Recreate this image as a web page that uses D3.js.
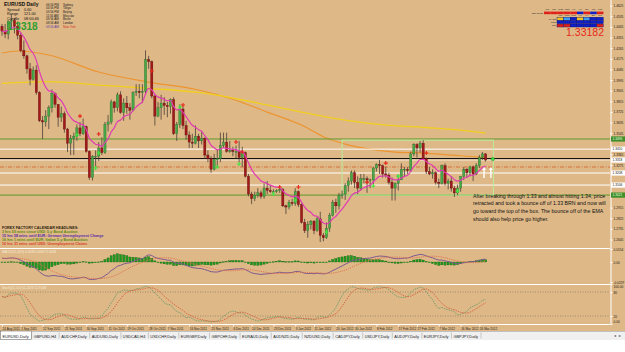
<!DOCTYPE html>
<html>
<head>
<meta charset="utf-8">
<script src="https://cdn.jsdelivr.net/npm/d3@7"></script>
<style>
html, body { margin: 0; padding: 0; background: #fff; }
svg { display: block; font-family: "Liberation Sans", Arial, sans-serif; }
</style>
</head>
<body>
<svg id="chart" width="625" height="352"></svg>
<script>
// EURUSD daily, 24 Aug 2011 .. 28 Mar 2012 (one entry per bar)
const firstOpen = 1.4450;
const closes = [
  1.4410,1.4385,1.4495,1.4500,1.4450,1.4375,1.4245,1.4200,1.4090,1.4000,
  1.4080,1.3890,1.3650,1.3640,1.3690,1.3760,1.3880,1.3790,1.3680,1.3710,
  1.3580,1.3460,1.3500,1.3520,1.3590,1.3540,1.3600,1.3390,1.3170,1.3350,
  1.3350,1.3420,1.3380,1.3620,1.3640,1.3810,1.3760,1.3870,1.3720,1.3800,
  1.3760,1.3740,1.3890,1.3900,1.3890,1.3900,1.4170,1.4150,1.3860,1.3690,
  1.3760,1.3800,1.3780,1.3770,1.3830,1.3540,1.3620,1.3750,1.3610,1.3530,
  1.3470,1.3460,1.3520,1.3480,1.3500,1.3360,1.3330,1.3240,1.3320,1.3330,
  1.3440,1.3470,1.3390,1.3400,1.3390,1.3390,1.3340,1.3380,1.3180,1.3030,
  1.2990,1.3020,1.3040,1.3010,1.3080,1.3060,1.3050,1.3050,1.3060,1.3070,
  1.2930,1.2920,1.2960,1.2950,1.3050,1.2940,1.2790,1.2720,1.2770,1.2800,
  1.2720,1.2820,1.2680,1.2660,1.2740,1.2850,1.2960,1.2930,1.3020,1.3030,
  1.3100,1.3140,1.3210,1.3130,1.3080,1.3160,1.3160,1.3150,1.3150,1.3250,
  1.3280,1.3270,1.3200,1.3190,1.3130,1.3080,1.3120,1.3150,1.3240,1.3240,
  1.3230,1.3370,1.3450,1.3420,1.3460,1.3330,1.3220,1.3200,1.3210,1.3130,
  1.3120,1.3270,1.3120,1.3140,1.3080,1.3040,1.3080,1.3180,1.3240,1.3210,
  1.3260,1.3200,1.3270,1.3340,1.3370,1.3318
];
const highs = [
  1.4470,1.4470,1.4500,1.4550,1.4520,1.4490,1.4400,1.4330,1.4210,1.4140,
  1.4110,1.4120,1.3900,1.3690,1.3740,1.3780,1.3915,1.3890,1.3790,1.3770,
  1.3730,1.3590,1.3530,1.3550,1.3620,1.3640,1.3670,1.3610,1.3400,1.3360,
  1.3400,1.3470,1.3510,1.3640,1.3700,1.3830,1.3820,1.3890,1.3900,1.3840,
  1.3860,1.3800,1.3900,1.3960,1.3960,1.3960,1.4247,1.4200,1.4160,1.3870,
  1.3810,1.3870,1.3850,1.3810,1.3840,1.3850,1.3640,1.3790,1.3770,1.3650,
  1.3560,1.3540,1.3610,1.3540,1.3560,1.3510,1.3400,1.3350,1.3370,1.3410,
  1.3550,1.3550,1.3550,1.3480,1.3430,1.3440,1.3480,1.3430,1.3390,1.3200,
  1.3050,1.3050,1.3080,1.3060,1.3120,1.3140,1.3100,1.3070,1.3070,1.3080,
  1.3080,1.2940,1.2980,1.2990,1.3080,1.3060,1.2950,1.2820,1.2800,1.2810,
  1.2810,1.2840,1.2880,1.2700,1.2790,1.2870,1.2980,1.2990,1.3040,1.3060,
  1.3120,1.3170,1.3230,1.3230,1.3180,1.3200,1.3200,1.3180,1.3160,1.3260,
  1.3290,1.3320,1.3280,1.3260,1.3210,1.3170,1.3130,1.3190,1.3290,1.3260,
  1.3260,1.3390,1.3460,1.3460,1.3480,1.3486,1.3340,1.3260,1.3240,1.3220,
  1.3160,1.3280,1.3290,1.3160,1.3180,1.3100,1.3110,1.3180,1.3260,1.3250,
  1.3270,1.3270,1.3290,1.3360,1.3385,1.3375
];
const lows = [
  1.4370,1.4350,1.4340,1.4420,1.4390,1.4340,1.4230,1.4175,1.4050,1.3950,
  1.3990,1.3870,1.3640,1.3495,1.3600,1.3580,1.3720,1.3760,1.3600,1.3640,
  1.3550,1.3385,1.3360,1.3360,1.3480,1.3520,1.3530,1.3380,1.3150,1.3145,
  1.3260,1.3310,1.3360,1.3370,1.3560,1.3620,1.3720,1.3730,1.3710,1.3650,
  1.3710,1.3660,1.3730,1.3860,1.3840,1.3800,1.3880,1.4090,1.3840,1.3610,
  1.3680,1.3660,1.3700,1.3680,1.3710,1.3530,1.3480,1.3590,1.3580,1.3490,
  1.3420,1.3420,1.3450,1.3420,1.3450,1.3330,1.3300,1.3210,1.3230,1.3260,
  1.3300,1.3420,1.3380,1.3380,1.3350,1.3330,1.3300,1.3260,1.3170,1.3010,
  1.2945,1.2970,1.3000,1.2990,1.2990,1.3030,1.3040,1.3030,1.3040,1.3040,
  1.2920,1.2860,1.2900,1.2930,1.2930,1.2920,1.2780,1.2700,1.2660,1.2730,
  1.2690,1.2710,1.2624,1.2630,1.2650,1.2710,1.2840,1.2870,1.2900,1.2990,
  1.2980,1.3050,1.3110,1.3080,1.3030,1.3060,1.3120,1.3040,1.3080,1.3110,
  1.3220,1.3200,1.3170,1.3170,1.3110,1.2975,1.2975,1.3060,1.3150,1.3180,
  1.3200,1.3220,1.3350,1.3340,1.3380,1.3320,1.3200,1.3190,1.3160,1.3110,
  1.3080,1.3110,1.3100,1.3070,1.3050,1.3005,1.3020,1.3050,1.3150,1.3170,
  1.3180,1.3140,1.3190,1.3250,1.3320,1.3305
];

// slow moving averages (bar index -> price)
const orangeBars = [0, 5, 15, 31, 47, 63, 74, 85, 96, 104, 110, 116, 126, 135, 144, 153, 155];
const orangeVals = [1.4224, 1.4241, 1.4207, 1.4063, 1.3978, 1.3911, 1.3833, 1.3724, 1.3614, 1.3504, 1.3453, 1.3419, 1.3385, 1.3377, 1.3360, 1.3343, 1.3340];
const yellowBars = [0, 15, 31, 47, 63, 74, 85, 96, 106, 117, 128, 134, 145, 155];
const yellowVals = [1.3967, 1.3981, 1.3953, 1.3925, 1.3890, 1.3843, 1.3784, 1.3724, 1.3673, 1.3631, 1.3605, 1.3597, 1.3575, 1.3546];

// signal crosses
const sellBars = [25, 31, 48, 58, 75, 77, 89, 95, 117, 123, 136];
const sellPrices = [1.3690, 1.3538, 1.4072, 1.3784, 1.3470, 1.3386, 1.3089, 1.3089, 1.3131, 1.3292, 1.3377];
const buyBars = [24, 30, 31, 57, 69, 76, 87, 94, 104, 119, 127, 146];
const buyPrices = [1.3530, 1.3250, 1.3377, 1.3767, 1.3259, 1.3284, 1.3030, 1.2979, 1.2708, 1.3098, 1.3182, 1.3055];

// horizontal lines and drawn objects
const levelPrices = [1.3496, 1.3410, 1.3330, 1.3318, 1.3259, 1.3208, 1.3106, 1.3021];
const levelKinds = ['green', 'white', 'black', 'bid', 'pivot', 'white', 'white', 'green'];
const boxBars = [109, 157.5];
const boxPrices = [1.3486, 1.3021];
const arrowBars = [154.5, 156.7];
const arrowPrices = [1.3259, 1.3165];
const dotBar = 157.3, dotPrice = 1.3326;

// indicator seeds (values before the first visible bar)
const macdSeed = [1.4410, 1.4360];
const stochSeed = [1.4550, 1.4100];

const priceTicks = [1.4625, 1.4535, 1.4445, 1.4355, 1.4265, 1.4175, 1.4085, 1.3995, 1.3905, 1.3815,
  1.3725, 1.3635, 1.3545, 1.3365, 1.3275, 1.2915, 1.2825, 1.2735, 1.2645];
const macdTicks = [0.0154, 0, -0.0237];
const stochTicks = [100, 80, 20, 0];
const dateLabels = ['24 Aug 2011', '1 Sep 2011', '12 Sep 2011', '21 Sep 2011', '30 Sep 2011', '11 Oct 2011',
  '19 Oct 2011', '28 Oct 2011', '7 Nov 2011', '16 Nov 2011', '25 Nov 2011', '6 Dec 2011', '14 Dec 2011',
  '23 Dec 2011', '3 Jan 2012', '11 Jan 2012', '20 Jan 2012', '30 Jan 2012', '8 Feb 2012', '17 Feb 2012',
  '27 Feb 2012', '7 Mar 2012', '16 Mar 2012', '26 Mar 2012'];

const noteLines = [
  'After breaking through 1.33 and almost hitting 1.34, price',
  'retracted and took a bounce off of 1.33 BRN and now will',
  'go toward the top of the box. The bounce off of the EMA',
  'should also help price go higher.'
];
const headlines = [
  'FOREX FACTORY CALENDAR HEADLINES:',
  '3 hrs 59 mins since USD: 5-y Bond Auction',
  '15 hrs 58 mins until EUR: German Unemployment Change',
  '16 hrs 1 mins until EUR: Italian 5-y Bond Auction',
  '16 hrs 31 mins until USD: Unemployment Claims'
];
const infoNames = ['Spread', 'Range', 'Candle'];
const infoValues = ['0.60', '121.00', '08:00:46'];
const sessionTimes = ['06:56 PM', '04:56 PM', '03:56 PM', '11:56 AM', '09:56 AM', '08:56 AM', '03:56 AM'];
const sessionCities = ['Sydney', 'Tokyo', 'Beijing', 'Moscow', 'Berlin', 'London', 'New York'];
const tfNames = ['M1', 'M5', 'M15', 'M30', 'H1', 'H4', 'D1', 'W1', 'MN'];
const trendCells = ['r', 'r', 'r', 'r', 'r', 'b', 'r', 'b', 'r'];
const matrixNames = ['MACD', 'STR', 'CCI'];
const matrixCells = [
  ['y', 'l', 'b', 'y', 'l', 'b', 'b'],
  ['b', 'b', 'b', 'b', 'b', 'b', 'b'],
  ['r', 'r', 'b', 'b', 'b', 'b', 'r']
];
const tabNames = ['EURUSD,Daily', 'GBPUSD,H4', 'AUDCHF,Daily', 'AUDUSD,Daily', 'USDCAD,H4', 'USDCHF,Daily',
  'EURGBP,Daily', 'GBPCHF,Daily', 'EURAUD,Daily', 'AUDNZD,Daily', 'NZDUSD,Daily', 'CADJPY,Daily',
  'USDJPY,Daily', 'AUDJPY,Daily', 'EURJPY,Daily', 'GBPJPY,Daily'];

// ---------- derived series ----------
const n = closes.length;
const opens = [firstOpen].concat(closes.slice(0, n - 1));
const idx = d3.range(n);

function ema(src, period, seed) {
  const k = 2 / (period + 1);
  let prev = seed;
  return src.map(v => (prev = prev + k * (v - prev)));
}
const emaFast = ema(closes, 10, closes[0]);
const ema12 = ema(closes, 12, macdSeed[0]);
const ema26 = ema(closes, 26, macdSeed[1]);
const macdMain = ema12.map((v, i) => v - ema26[i]);
const macdSignal = macdMain.map((v, i) => d3.mean(macdMain.slice(Math.max(0, i - 8), i + 1)));
const macdHist = macdMain.map((v, i) => v - macdSignal[i]);

// stochastic %K 21, slowing 5, %D 5
const kLen = 21, slow = 5, dLen = 5;
const rawK = closes.map((c, i) => {
  const lo = i - (kLen - 1);
  let hh = d3.max(highs.slice(Math.max(0, lo), i + 1));
  let ll = d3.min(lows.slice(Math.max(0, lo), i + 1));
  if (lo < 0) { hh = Math.max(hh, stochSeed[0]); ll = Math.min(ll, stochSeed[1]); }
  return { num: c - ll, den: hh - ll };
});
const stochK = rawK.map((r, i) => {
  const w = rawK.slice(Math.max(0, i - slow + 1), i + 1);
  return 100 * d3.sum(w, d => d.num) / d3.sum(w, d => d.den);
});
const stochD = stochK.map((v, i) => d3.mean(stochK.slice(Math.max(0, i - dLen + 1), i + 1)));

const dates = [];
for (let t = Date.UTC(2011, 7, 24); dates.length < n; t += 864e5) {
  const d = new Date(t), wd = d.getUTCDay();
  if (wd !== 0 && wd !== 6) dates.push(d);
}
const fmtDate = d3.utcFormat('%-d %b %Y');
const labelIdx = dateLabels.map(s => dates.findIndex(d => fmtDate(d) === s));

// ---------- scales ----------
const axisX = 610;
const x = d3.scaleLinear().domain([0, 155]).range([2, 485.6]);
const yMain = d3.scaleLinear().domain([1.2573, 1.4673]).range([248, 0]);
const yMacd = d3.scaleLinear().domain([-0.0237, 0.0154]).range([282, 249]);
const yStoch = d3.scaleLinear().domain([0, 100]).range([324, 284]);

const svg = d3.select('#chart');
const bg = '#DEB887';
svg.append('rect').attr('width', 625).attr('height', 331).attr('fill', bg);
svg.append('rect').attr('y', 331).attr('width', 625).attr('height', 21).attr('fill', '#fff');
svg.append('rect').attr('y', 331).attr('width', 625).attr('height', 9).attr('fill', '#F0F0F0');
svg.append('line').attr('x1', 0).attr('x2', 625).attr('y1', 331.5).attr('y2', 331.5).attr('stroke', '#A0A0A0').attr('stroke-width', 0.6);

const defs = svg.append('defs');
[['clipMain', 0, 0, axisX, 248], ['clipMacd', 0, 249, axisX, 35], ['clipStoch', 0, 285, axisX, 39]].forEach(c => {
  defs.append('clipPath').attr('id', c[0]).append('rect')
    .attr('x', c[1]).attr('y', c[2]).attr('width', c[3]).attr('height', c[4]);
});

// ---------- main window ----------
const gMain = svg.append('g').attr('clip-path', 'url(#clipMain)');

const curveLine = (bars, vals) => d3.line().x((d, k) => x(bars[k])).y(d => yMain(d)).curve(d3.curveMonotoneX)(vals);
gMain.append('path').attr('d', curveLine(orangeBars, orangeVals))
  .attr('fill', 'none').attr('stroke', '#EC9530').attr('stroke-width', 1.2);
gMain.append('path').attr('d', curveLine(yellowBars, yellowVals))
  .attr('fill', 'none').attr('stroke', '#F2CF1E').attr('stroke-width', 1.3);

const levelStyle = {
  green: { stroke: '#5C9A2E', width: 1, dash: null },
  white: { stroke: '#FFFFFF', width: 1, dash: null },
  black: { stroke: '#000000', width: 1, dash: null },
  bid:   { stroke: '#FFFFFF', width: 0.7, dash: null },
  pivot: { stroke: '#D2602A', width: 0.8, dash: '4,1.5,1,1.5' }
};
levelPrices.forEach((p, k) => {
  const s = levelStyle[levelKinds[k]];
  gMain.append('line').attr('x1', 0).attr('x2', axisX).attr('y1', yMain(p)).attr('y2', yMain(p))
    .attr('stroke', s.stroke).attr('stroke-width', s.width).attr('stroke-dasharray', s.dash);
});

gMain.append('rect')
  .attr('x', x(boxBars[0])).attr('width', x(boxBars[1]) - x(boxBars[0]))
  .attr('y', yMain(boxPrices[0])).attr('height', yMain(boxPrices[1]) - yMain(boxPrices[0]))
  .attr('fill', 'none').attr('stroke', '#B8EE9C').attr('stroke-width', 1);

const candles = gMain.selectAll('g.candle').data(idx).join('g').attr('class', 'candle');
candles.append('line')
  .attr('x1', i => x(i)).attr('x2', i => x(i))
  .attr('y1', i => yMain(highs[i])).attr('y2', i => yMain(lows[i]))
  .attr('stroke', '#4A4038').attr('stroke-width', 0.8);
candles.append('rect')
  .attr('x', i => x(i) - 1.1).attr('width', 2.2)
  .attr('y', i => yMain(Math.max(opens[i], closes[i])))
  .attr('height', i => Math.max(0.8, Math.abs(yMain(opens[i]) - yMain(closes[i]))))
  .attr('fill', i => closes[i] >= opens[i] ? '#48A848' : '#A2191A')
  .attr('stroke', i => closes[i] >= opens[i] ? '#2A6A2A' : '#5E0C0C')
  .attr('stroke-width', 0.35);

gMain.append('path')
  .attr('d', d3.line().x(i => x(i)).y(i => yMain(emaFast[i])).curve(d3.curveMonotoneX)(idx))
  .attr('fill', 'none').attr('stroke', '#E03CB4').attr('stroke-width', 1.2);

const cross = 'M-2,0H2M0,-2V2';
gMain.selectAll('path.sell').data(sellBars).join('path').attr('class', 'sell')
  .attr('d', cross).attr('transform', (b, k) => `translate(${x(b)},${yMain(sellPrices[k])})`)
  .attr('stroke', '#E82418').attr('stroke-width', 1.1);
gMain.selectAll('path.buy').data(buyBars).join('path').attr('class', 'buy')
  .attr('d', cross).attr('transform', (b, k) => `translate(${x(b)},${yMain(buyPrices[k])})`)
  .attr('stroke', '#3EE83E').attr('stroke-width', 1.1);

arrowBars.forEach(b => {
  const ax = x(b), top = yMain(arrowPrices[0]), bot = yMain(arrowPrices[1]);
  gMain.append('path')
    .attr('d', `M${ax},${top}L${ax + 2},${top + 3}L${ax + 0.7},${top + 3}L${ax + 0.7},${bot}L${ax - 0.7},${bot}L${ax - 0.7},${top + 3}L${ax - 2},${top + 3}Z`)
    .attr('fill', '#FFFFFF');
});
gMain.append('circle').attr('cx', x(dotBar)).attr('cy', yMain(dotPrice)).attr('r', 1.7)
  .attr('fill', '#3EE03E').attr('stroke', '#1E7A1E').attr('stroke-width', 0.4);

// note text: font size fitted so the longest line ends just left of the price axis
const noteX = 473, noteRight = 606;
const notes = svg.selectAll('text.note').data(noteLines).join('text').attr('class', 'note')
  .attr('x', noteX).attr('y', (d, k) => 197.5 + k * 7.8)
  .attr('font-size', 6.4).attr('fill', '#111').text(d => d);
const longest = d3.max(notes.nodes(), nd => nd.getComputedTextLength());
notes.attr('font-size', 6.4 * (noteRight - noteX) / longest);

// headlines
const headColors = ['#2A1C0C', '#5E8A12', '#5A2EA8', '#5E8A12', '#D8401E'];
svg.selectAll('text.head').data(headlines).join('text').attr('class', 'head')
  .attr('x', 2).attr('y', (d, k) => 228.8 + k * 4.1)
  .attr('font-size', 3.7).attr('font-weight', 'bold')
  .attr('fill', (d, k) => headColors[k]).text(d => d);

// info panel top-left
svg.append('text').attr('x', 4).attr('y', 6).attr('font-size', 5).attr('font-weight', 'bold')
  .attr('fill', '#111').text('EURUSD  Daily');
infoNames.forEach((s, k) => {
  svg.append('text').attr('x', 7).attr('y', 11.3 + k * 4.1).attr('font-size', 3.8).attr('fill', '#111').text(s);
  svg.append('text').attr('x', 24).attr('y', 11.3 + k * 4.1).attr('font-size', 3.8).attr('fill', '#111').text(infoValues[k]);
});
svg.append('text').attr('x', 7).attr('y', 29.5).attr('font-size', 10).attr('font-weight', 'bold')
  .attr('fill', '#2E9E2E').text(closes[n - 1].toFixed(4));
sessionTimes.forEach((t, k) => {
  const last = k === sessionTimes.length - 1;
  svg.append('text').attr('x', 46).attr('y', 5.5 + k * 3.73).attr('font-size', 3).attr('fill', last ? '#6040A8' : '#222').text(t);
  svg.append('text').attr('x', 63).attr('y', 5.5 + k * 3.73).attr('font-size', 3).attr('fill', last ? '#D83030' : '#222').text(sessionCities[k]);
});

// trend matrix top-right
const cellColor = { r: '#E0201A', b: '#1020C8', y: '#F2C21E', l: '#3C9CF0' };
const cw = 6.6;
tfNames.forEach((t, k) => {
  svg.append('text').attr('x', 544 + k * cw + cw / 2).attr('y', 10).attr('text-anchor', 'middle')
    .attr('font-size', 2.5).attr('fill', '#222').text(t);
});
svg.append('text').attr('x', 543).attr('y', 13.8).attr('text-anchor', 'end').attr('font-size', 2.5).attr('fill', '#222').text('Bar Trend');
trendCells.forEach((c, k) => {
  svg.append('rect').attr('x', 544 + k * cw).attr('y', 11.6).attr('width', cw).attr('height', 2.6).attr('fill', cellColor[c]);
});
tfNames.slice(1, 8).forEach((t, k) => {
  svg.append('text').attr('x', 557 + k * cw + cw / 2).attr('y', 16.3).attr('text-anchor', 'middle')
    .attr('font-size', 2.5).attr('fill', '#222').text(t);
});
matrixCells.forEach((row, r) => {
  svg.append('text').attr('x', 556).attr('y', 19.6 + r * 3.4).attr('text-anchor', 'end')
    .attr('font-size', 2.5).attr('fill', '#222').text(matrixNames[r]);
  row.forEach((c, k) => {
    svg.append('rect').attr('x', 557 + k * cw).attr('y', 17.2 + r * 3.4).attr('width', cw).attr('height', 3)
      .attr('fill', cellColor[c]).attr('stroke', '#0A1070').attr('stroke-width', 0.4);
  });
});
svg.append('text').attr('x', 604).attr('y', 36).attr('text-anchor', 'end').attr('font-size', 10.5)
  .attr('fill', '#E8281A').text('1.33182');

// ---------- MACD window ----------
const gMacd = svg.append('g').attr('clip-path', 'url(#clipMacd)');
gMacd.selectAll('rect').data(idx).join('rect')
  .attr('x', i => x(i) - 1.1).attr('width', 2.2)
  .attr('y', i => Math.min(yMacd(0), yMacd(macdHist[i])))
  .attr('height', i => Math.max(0.6, Math.abs(yMacd(macdHist[i]) - yMacd(0))))
  .attr('fill', '#1E9A1E').attr('stroke', '#0B5A0B').attr('stroke-width', 0.3);
gMacd.append('path').attr('d', d3.line().x(i => x(i)).y(i => yMacd(macdMain[i]))(idx))
  .attr('fill', 'none').attr('stroke', '#7E5A90').attr('stroke-width', 1);
gMacd.append('path').attr('d', d3.line().x(i => x(i)).y(i => yMacd(macdSignal[i]))(idx))
  .attr('fill', 'none').attr('stroke', '#E0704A').attr('stroke-width', 0.9).attr('stroke-dasharray', '1.2,1');
svg.append('text').attr('x', 2).attr('y', 253).attr('font-size', 3.2).attr('fill', '#F6EEDC')
  .text('MACD(12,26,9) ' + [macdMain[n - 1], macdSignal[n - 1], macdHist[n - 1]].map(v => v.toFixed(4)).join(' '));

// ---------- Stochastic window ----------
const gSto = svg.append('g').attr('clip-path', 'url(#clipStoch)');
[80, 20].forEach(v => {
  gSto.append('line').attr('x1', 0).attr('x2', axisX).attr('y1', yStoch(v)).attr('y2', yStoch(v))
    .attr('stroke', '#8A7456').attr('stroke-width', 0.7).attr('stroke-dasharray', '1,1.5');
});
gSto.append('path').attr('d', d3.line().x(i => x(i)).y(i => yStoch(stochK[i])).curve(d3.curveMonotoneX)(idx))
  .attr('fill', 'none').attr('stroke', '#6E9A6A').attr('stroke-width', 0.9).attr('stroke-dasharray', '1.5,1');
gSto.append('path').attr('d', d3.line().x(i => x(i)).y(i => yStoch(stochD[i])).curve(d3.curveMonotoneX)(idx))
  .attr('fill', 'none').attr('stroke', '#D8603C').attr('stroke-width', 0.9).attr('stroke-dasharray', '1.5,1');
svg.append('text').attr('x', 2).attr('y', 289).attr('font-size', 3.2).attr('fill', '#F6EEDC')
  .text(`Stoch(${kLen},${dLen},${slow}) ` + stochK[n - 1].toFixed(4) + ' ' + stochD[n - 1].toFixed(4));

// ---------- separators ----------
[248.5, 284.5, 324.5].forEach(yy => {
  svg.append('line').attr('x1', 0).attr('x2', axisX).attr('y1', yy).attr('y2', yy).attr('stroke', '#fff').attr('stroke-width', 1);
});

// ---------- axes ----------
function styleAxis(g, size) {
  g.attr('font-size', size).attr('font-family', '"Liberation Sans", Arial, sans-serif');
  g.select('.domain').attr('stroke', '#fff');
  g.selectAll('.tick line').attr('stroke', '#fff');
  g.selectAll('.tick text').attr('fill', '#1E1A14');
}
svg.append('g').attr('transform', `translate(${axisX + 0.5},0)`)
  .call(d3.axisRight(yMain).tickValues(priceTicks).tickFormat(d3.format('.4f')).tickSize(2).tickPadding(1).tickSizeOuter(0))
  .call(g => styleAxis(g, 3.2))
  .call(g => g.select('.domain').attr('d', 'M0.5,0V324.5'));

// level labels on the price axis
levelPrices.forEach((p, k) => {
  const kind = levelKinds[k];
  if (kind === 'black' || kind === 'pivot') return;
  const green = kind === 'green';
  svg.append('rect').attr('x', axisX + 1).attr('y', yMain(p) - 2.6).attr('width', 14).attr('height', 5.2)
    .attr('fill', green ? '#3F8F2A' : '#FFFFFF');
  svg.append('text').attr('x', axisX + 2.5).attr('y', yMain(p) + 1.2).attr('font-size', 3.2)
    .attr('fill', green ? '#E8FFE0' : '#111').text(p.toFixed(4));
});

svg.append('g').attr('transform', `translate(${axisX + 0.5},0)`)
  .call(d3.axisRight(yMacd).tickValues(macdTicks).tickFormat(v => v === 0 ? '0.00' : v.toFixed(4)).tickSize(2).tickPadding(1).tickSizeOuter(0))
  .call(g => styleAxis(g, 3.2))
  .call(g => g.select('.domain').remove());
svg.append('g').attr('transform', `translate(${axisX + 0.5},0)`)
  .call(d3.axisRight(yStoch).tickValues(stochTicks).tickFormat(v => (v === 100 || v === 0) ? v.toFixed(2) : String(v)).tickSize(2).tickPadding(1).tickSizeOuter(0))
  .call(g => styleAxis(g, 3.2))
  .call(g => g.select('.domain').remove())
  .call(g => g.selectAll('.tick text').attr('dy', v => v === 100 ? '1.2em' : (v === 0 ? '-0.4em' : '0.32em')));

svg.append('g').attr('transform', 'translate(0,324.5)')
  .call(d3.axisBottom(x).tickValues(labelIdx.filter(i => i >= 0)).tickFormat(i => fmtDate(dates[i])).tickSize(2).tickPadding(1).tickSizeOuter(0))
  .call(g => styleAxis(g, 3.1))
  .call(g => g.select('.domain').remove())
  .call(g => g.selectAll('.tick text').attr('text-anchor', 'start').attr('dy', '0.9em'));

// ---------- symbol tabs ----------
const tabs = svg.append('g');
const activeTab = tabs.append('rect').attr('y', 331).attr('height', 8.5)
  .attr('fill', '#fff').attr('stroke', '#555').attr('stroke-width', 0.5);
let tx = 0;
tabNames.forEach((name, k) => {
  const t = tabs.append('text').attr('x', tx + 2.5).attr('y', 337.6).attr('font-size', 3.9).attr('fill', '#222').text(name);
  const w = t.node().getComputedTextLength() + 5;
  if (k === 0) activeTab.attr('x', tx + 0.5).attr('width', w);
  tx += w;
  tabs.append('line').attr('x1', tx + 0.5).attr('x2', tx + 0.5).attr('y1', 332.5).attr('y2', 338.5)
    .attr('stroke', '#9A9A9A').attr('stroke-width', 0.5);
});
svg.append('text').attr('x', 614).attr('y', 337.4).attr('font-size', 3.6).attr('fill', '#555').text('\u25C2');
svg.append('text').attr('x', 619).attr('y', 337.4).attr('font-size', 3.6).attr('fill', '#555').text('\u25B8');
</script>
</body>
</html>
